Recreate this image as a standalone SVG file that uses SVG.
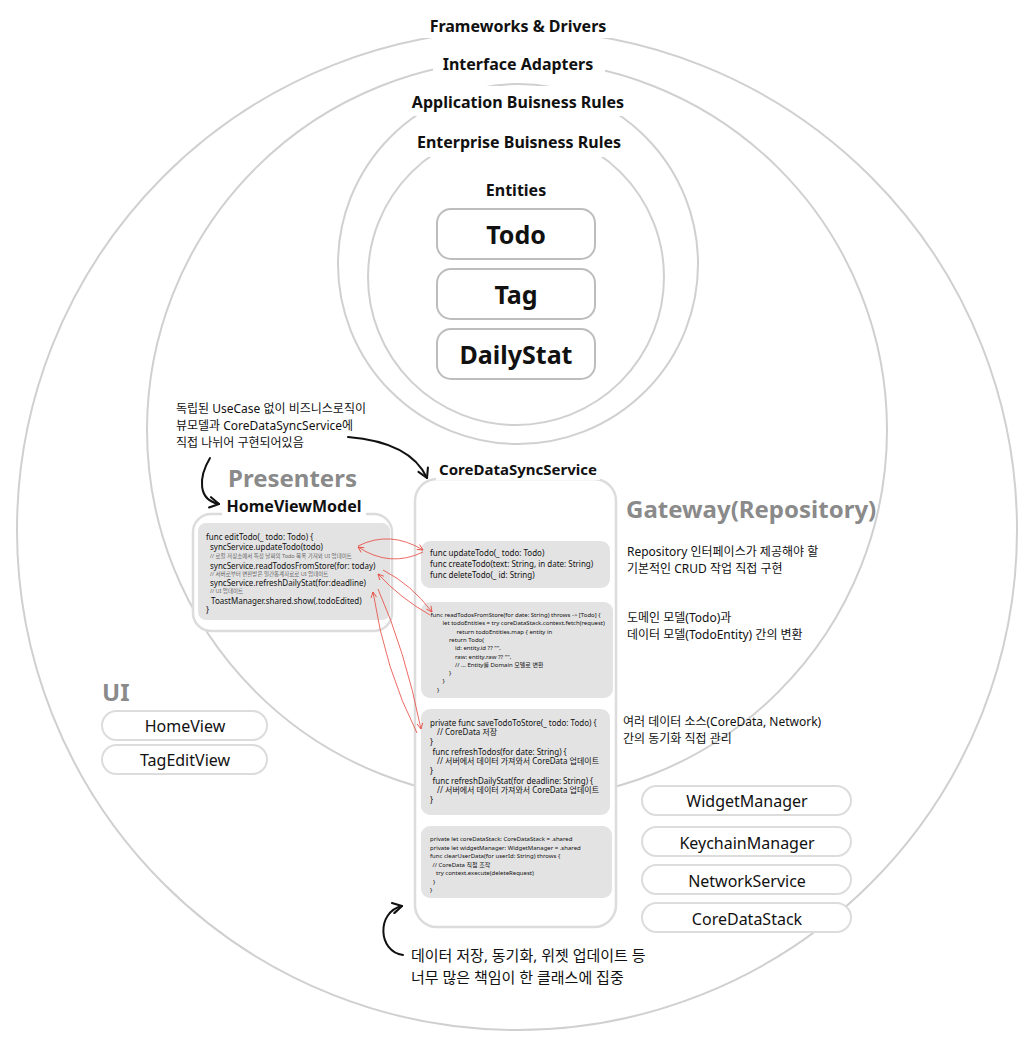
<svg xmlns="http://www.w3.org/2000/svg" width="1034" height="1038" viewBox="0 0 1034 1038">
<style>
.ring{fill:none;stroke:#d0d0d0;stroke-width:2}
.lbg{fill:#fff}
.lbl{font-family:"Noto Sans","Noto Sans CJK KR",sans-serif;font-weight:700;font-size:16px;fill:#111;text-anchor:middle}
.ent{fill:#fff;stroke:#bdbdbd;stroke-width:2}
.entt{font-family:"Noto Sans","Noto Sans CJK KR",sans-serif;font-weight:700;font-size:25px;fill:#111;text-anchor:middle}
.sec{font-family:"Noto Sans","Noto Sans CJK KR",sans-serif;font-weight:700;font-size:24px;fill:#8a8a8a}
.cont{fill:#fff;stroke:#dcdcdc;stroke-width:2.5}
.code{fill:#e3e3e3}
.c8{font-family:"Noto Sans","Noto Sans CJK KR",sans-serif;font-size:8px;fill:#111}
.c6{font-family:"Noto Sans","Noto Sans CJK KR",sans-serif;font-size:6px;fill:#111}
.cm{font-family:"Noto Sans","Noto Sans CJK KR",sans-serif;font-size:5.5px;fill:#666}
.pill{fill:#fff;stroke:#dcdcdc;stroke-width:2}
.pt{font-family:"Noto Sans","Noto Sans CJK KR",sans-serif;font-size:16px;fill:#111;text-anchor:middle}
.note{font-family:"Noto Sans","Noto Sans CJK KR",sans-serif;font-size:12px;fill:#111}
.note15{font-family:"Noto Sans","Noto Sans CJK KR",sans-serif;font-size:15px;fill:#111}
.red{fill:none;stroke:#e8453c;stroke-width:0.8}
.blk{fill:none;stroke:#111;stroke-width:2;stroke-linecap:round}
</style>
<defs>
<marker id="ra" viewBox="0 0 10 10" refX="9" refY="5" markerWidth="7" markerHeight="7" orient="auto" markerUnits="userSpaceOnUse"><path d="M1,1 L9,5 L1,9" fill="none" stroke="#e8453c" stroke-width="1.2"/></marker>
<marker id="ba" viewBox="0 0 10 10" refX="9" refY="5" markerWidth="13" markerHeight="13" orient="auto" markerUnits="userSpaceOnUse"><path d="M2,1 L9,5 L2,9" fill="none" stroke="#111" stroke-width="1.6" stroke-linecap="round" stroke-linejoin="round"/></marker>
</defs>
<rect x="0" y="0" width="1034" height="1038" fill="#fff"/>

<g id="rings">
<circle class="ring" cx="517" cy="530" r="500"/>
<circle class="ring" cx="517" cy="430" r="370"/>
<circle class="ring" cx="518" cy="264" r="180"/>
<circle class="ring" cx="516" cy="277" r="148"/>
<rect class="lbg" x="422" y="12" width="194" height="26"/>
<rect class="lbg" x="433" y="50" width="172" height="26"/>
<rect class="lbg" x="405" y="86" width="225" height="30"/>
<rect class="lbg" x="405" y="126" width="225" height="31"/>
<text class="lbl" x="518" y="32">Frameworks &amp; Drivers</text>
<text class="lbl" x="518" y="70">Interface Adapters</text>
<text class="lbl" x="518" y="108">Application Buisness Rules</text>
<text class="lbl" x="519" y="148">Enterprise Buisness Rules</text>
<text class="lbl" x="516" y="196">Entities</text>
</g>

<g id="todo"><rect class="ent" x="437" y="209" width="158" height="50" rx="14"/><text class="entt" x="516" y="244">Todo</text></g>
<g id="tag"><rect class="ent" x="437" y="269" width="158" height="50" rx="14"/><text class="entt" x="516" y="304">Tag</text></g>
<g id="dailystat"><rect class="ent" x="437" y="329" width="158" height="50" rx="14"/><text class="entt" x="516" y="364">DailyStat</text></g>

<g id="ui">
<text class="sec" x="102" y="701">UI</text>
<rect class="pill" x="102" y="711" width="165" height="29" rx="14.5"/><text class="pt" x="185" y="732">HomeView</text>
<rect class="pill" x="102" y="745" width="165" height="29" rx="14.5"/><text class="pt" x="185" y="766">TagEditView</text>
</g>

<g id="homeviewmodel">
<text class="sec" x="228" y="487">Presenters</text>
<rect class="cont" x="193" y="514" width="199" height="117" rx="18"/>
<rect class="lbg" x="222" y="496" width="144" height="22"/>
<text class="lbl" x="294" y="512">HomeViewModel</text>
<rect class="code" x="198" y="523" width="192" height="97" rx="8"/>
<text class="c8" x="206" y="540">func editTodo(_ todo: Todo) {</text>
<text class="c8" x="210" y="549.5">syncService.updateTodo(todo)</text>
<text class="cm" x="210" y="557.5">// 로컬 저장소에서 특정 날짜의 Todo 목록 가져와 UI 업데이트</text>
<text class="c8" x="210" y="568.5">syncService.readTodosFromStore(for: today)</text>
<text class="cm" x="210" y="575.5">// 서버로부터 변환받은 일간통계자료로 UI 업데이트</text>
<text class="c8" x="210" y="586">syncService.refreshDailyStat(for:deadline)</text>
<text class="cm" x="210" y="593">// UI 업데이트</text>
<text class="c8" x="211" y="604">ToastManager.shared.show(.todoEdited)</text>
<text class="c8" x="206" y="612.5">}</text>
</g>

<g id="coredatasyncservice">
<rect class="cont" x="415" y="479" width="201" height="448" rx="22"/>
<rect class="lbg" x="436" y="458" width="164" height="22"/>
<text class="lbl" x="518" y="475" style="font-size:15px">CoreDataSyncService</text>
<rect class="code" x="421" y="541" width="189" height="47" rx="9"/>
<text class="c8" x="430" y="556">func updateTodo(_ todo: Todo)</text>
<text class="c8" x="430" y="567">func createTodo(text: String, in date: String)</text>
<text class="c8" x="430" y="578">func deleteTodo(_ id: String)</text>
<rect class="code" x="421" y="602" width="192" height="96" rx="9"/>
<text class="c6" x="430.5" y="617">func readTodosFromStore(for date: String) throws -&gt; [Todo] {</text>
<text class="c6" x="442.5" y="625.3">let todoEntities = try coreDataStack.context.fetch(request)</text>
<text class="c6" x="456.5" y="633.6">return todoEntities.map { entity in</text>
<text class="c6" x="449" y="641.9">return Todo(</text>
<text class="c6" x="455" y="650.2">id: entity.id ?? &quot;&quot;,</text>
<text class="c6" x="455" y="658.5">raw: entity.raw ?? &quot;&quot;,</text>
<text class="c6" x="455" y="666.8">// ... Entity를 Domain 모델로 변환</text>
<text class="c6" x="449" y="675.1">}</text>
<text class="c6" x="442.5" y="683.4">}</text>
<text class="c6" x="437" y="691.7">}</text>
<rect class="code" x="421" y="709" width="189" height="106" rx="9"/>
<text class="c8" x="430" y="725.5">private func saveTodoToStore(_ todo: Todo) {</text>
<text class="c8" x="437" y="735">// CoreData 저장</text>
<text class="c8" x="430" y="744.5">}</text>
<text class="c8" x="432.5" y="754.5">func refreshTodos(for date: String) {</text>
<text class="c8" x="437" y="764">// 서버에서 데이터 가져와서 CoreData 업데이트</text>
<text class="c8" x="430" y="773.5">}</text>
<text class="c8" x="432.5" y="783.5">func refreshDailyStat(for deadline: String) {</text>
<text class="c8" x="437" y="793">// 서버에서 데이터 가져와서 CoreData 업데이트</text>
<text class="c8" x="430" y="802.5">}</text>
<rect class="code" x="421" y="826" width="191" height="72" rx="9"/>
<text class="c6" x="430" y="841">private let coreDataStack: CoreDataStack = .shared</text>
<text class="c6" x="430" y="849.5">private let widgetManager: WidgetManager = .shared</text>
<text class="c6" x="430" y="858">func clearUserData(for userId: String) throws {</text>
<text class="c6" x="432.5" y="866.5">// CoreData 직접 조작</text>
<text class="c6" x="436" y="875">try context.execute(deleteRequest)</text>
<text class="c6" x="433" y="883.5">}</text>
<text class="c6" x="430" y="891.5">}</text>
</g>

<g id="gateway">
<text class="sec" x="626" y="518">Gateway(Repository)</text>
<text class="note" x="627" y="556">Repository 인터페이스가 제공해야 할</text>
<text class="note" x="627" y="573">기본적인 CRUD 작업 직접 구현</text>
<text class="note" x="627" y="622">도메인 모델(Todo)과</text>
<text class="note" x="627" y="639">데이터 모델(TodoEntity) 간의 변환</text>
<text class="note" x="623" y="726">여러 데이터 소스(CoreData, Network)</text>
<text class="note" x="623" y="743">간의 동기화 직접 관리</text>
</g>

<g id="widgetmanager"><rect class="pill" x="642" y="786" width="209" height="29" rx="14.5"/><text class="pt" x="747" y="807">WidgetManager</text></g>
<g id="keychainmanager"><rect class="pill" x="642" y="827" width="209" height="29" rx="14.5"/><text class="pt" x="747" y="848.5">KeychainManager</text></g>
<g id="networkservice"><rect class="pill" x="642" y="865" width="209" height="29" rx="14.5"/><text class="pt" x="747" y="886.5">NetworkService</text></g>
<g id="coredatastack"><rect class="pill" x="642" y="903" width="209" height="29" rx="14.5"/><text class="pt" x="747" y="924.5">CoreDataStack</text></g>

<g id="notes">
<text class="note" x="176" y="413">독립된 UseCase 없이 비즈니스로직이</text>
<text class="note" x="176" y="430">뷰모델과 CoreDataSyncService에</text>
<text class="note" x="176" y="446.5">직접 나뉘어 구현되어있음</text>
<text class="note15" x="411" y="961">데이터 저장, 동기화, 위젯 업데이트 등</text>
<text class="note15" x="411" y="983">너무 많은 책임이 한 클래스에 집중</text>
</g>

<g id="connectors">
<path class="red" d="M358,546 Q390,530 423,550" marker-end="url(#ra)"/>
<path class="red" d="M423,552 Q390,568 358,547" marker-end="url(#ra)"/>
<path class="red" d="M383,570 Q412,585 432,612" marker-end="url(#ra)"/>
<path class="red" d="M430,615 Q400,598 378,574" marker-end="url(#ra)"/>
<path class="red" d="M378,589 Q405,650 421,729" marker-end="url(#ra)"/>
<path class="red" d="M417,733 Q385,670 373,592" marker-end="url(#ra)"/>
<path class="blk" d="M210,458 C198,478 198,500 219,504" marker-end="url(#ba)"/>
<path class="blk" d="M348,437 C385,440 415,452 427,478" marker-end="url(#ba)"/>
<path class="blk" d="M403,955 C378,952 376,912 402,906" marker-end="url(#ba)"/>
</g>
</svg>
